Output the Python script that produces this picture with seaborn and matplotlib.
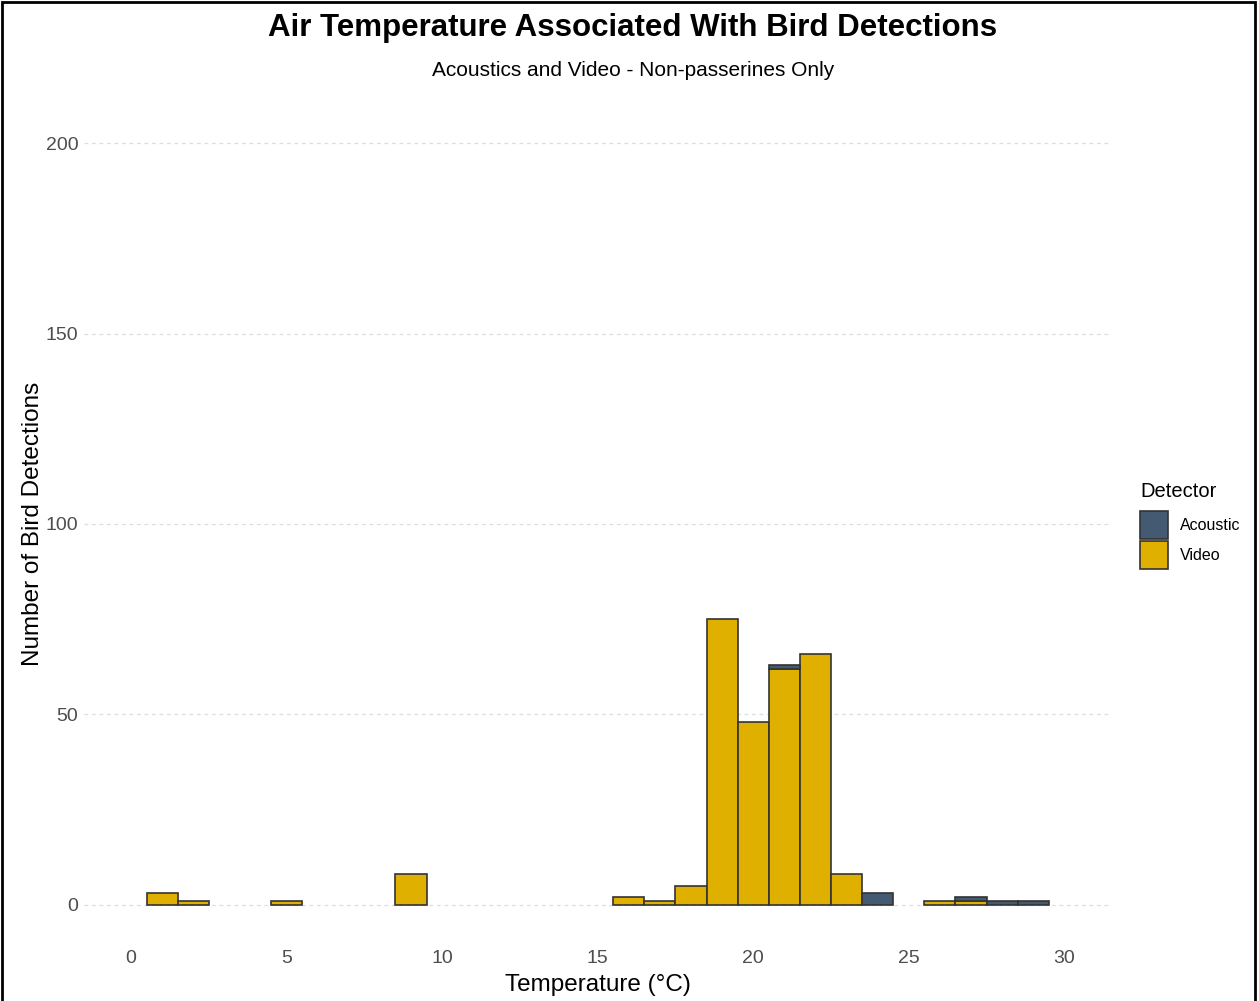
import matplotlib
matplotlib.use("Agg")
import matplotlib.pyplot as plt
import seaborn as sns
import pandas as pd
from matplotlib.patches import Rectangle

# ---- data (counts per 1 °C bin, bin centres) ----
video_temps = [1, 2, 5, 9, 16, 17, 18, 19, 20, 21, 22, 23, 26, 27]
video_counts = [3, 1, 1, 8, 2, 1, 5, 75, 48, 62, 66, 8, 1, 1]
acoustic_temps = [21, 24, 27, 28, 29]
acoustic_counts = [1, 3, 1, 1, 1]
detectors = ["Acoustic", "Video"]
palette = {"Acoustic": "#445A72", "Video": "#E0B000"}
x_ticks = [0, 5, 10, 15, 20, 25, 30]
y_ticks = [0, 50, 100, 150, 200]

df = pd.concat([
    pd.DataFrame({"Temperature": acoustic_temps, "n": acoustic_counts, "Detector": "Acoustic"}),
    pd.DataFrame({"Temperature": video_temps, "n": video_counts, "Detector": "Video"}),
], ignore_index=True)

sns.set_theme(style="white")
plt.rcParams["font.family"] = ["Liberation Sans", "DejaVu Sans"]
plt.rcParams["text.color"] = "black"

fig = plt.figure(figsize=(12.59, 10.01), dpi=100)
ax = fig.add_axes([84 / 1259, 1 - 943 / 1001, (1111 - 84) / 1259, (943 - 105) / 1001])

sns.histplot(data=df, x="Temperature", hue="Detector", weights="n", discrete=True,
             multiple="stack", hue_order=detectors, palette=palette, alpha=1,
             edgecolor="#333333", linewidth=1.2, ax=ax)

# empty bins are not drawn in the reference
for p in ax.patches:
    if p.get_height() == 0:
        p.set_visible(False)

ax.set_xlim(-1.51, 31.5)
ax.set_ylim(-10, 210)
ax.set_xticks(x_ticks)
ax.set_yticks(y_ticks)
ax.tick_params(axis="both", length=0, labelsize=14, labelcolor="#4D4D4D")
ax.tick_params(axis="x", pad=5)
ax.tick_params(axis="y", pad=4)
for s in ax.spines.values():
    s.set_visible(False)
ax.yaxis.grid(True, color="#DDDDDD", linestyle=(0, (3, 3)), linewidth=0.9)
ax.xaxis.grid(False)
ax.set_axisbelow(True)
ax.set_xlabel("Temperature (°C)", fontsize=17.5, color="black", labelpad=5)
ax.set_ylabel("Number of Bird Detections", fontsize=17.5, color="black", labelpad=1.5)

sns.move_legend(ax, "upper left", bbox_to_anchor=(1140 / 1259, 1 - 482 / 1001),
                bbox_transform=fig.transFigure, frameon=False, title="Detector",
                fontsize=11.5, title_fontsize=14.5, handlelength=1.75, handleheight=2.32,
                handletextpad=0.75, labelspacing=0.12, borderaxespad=0, borderpad=0)
leg = ax.get_legend()
leg._legend_box.align = "left"
leg._legend_box.sep = 7

fig.text(633 / 1259, 1 - 28 / 1001, "Air Temperature Associated With Bird Detections",
         ha="center", va="center", fontsize=22.5, fontweight="bold", color="black")
fig.text(633 / 1259, 1 - 70 / 1001, "Acoustics and Video - Non-passerines Only",
         ha="center", va="center", fontsize=15, color="black")

fig.patches.append(Rectangle((2 / 1259, -0.01), 1253 / 1259, 1.01 - 2 / 1001,
                             transform=fig.transFigure, fill=False,
                             edgecolor="black", linewidth=2))

fig.savefig("out.png", dpi=100)
